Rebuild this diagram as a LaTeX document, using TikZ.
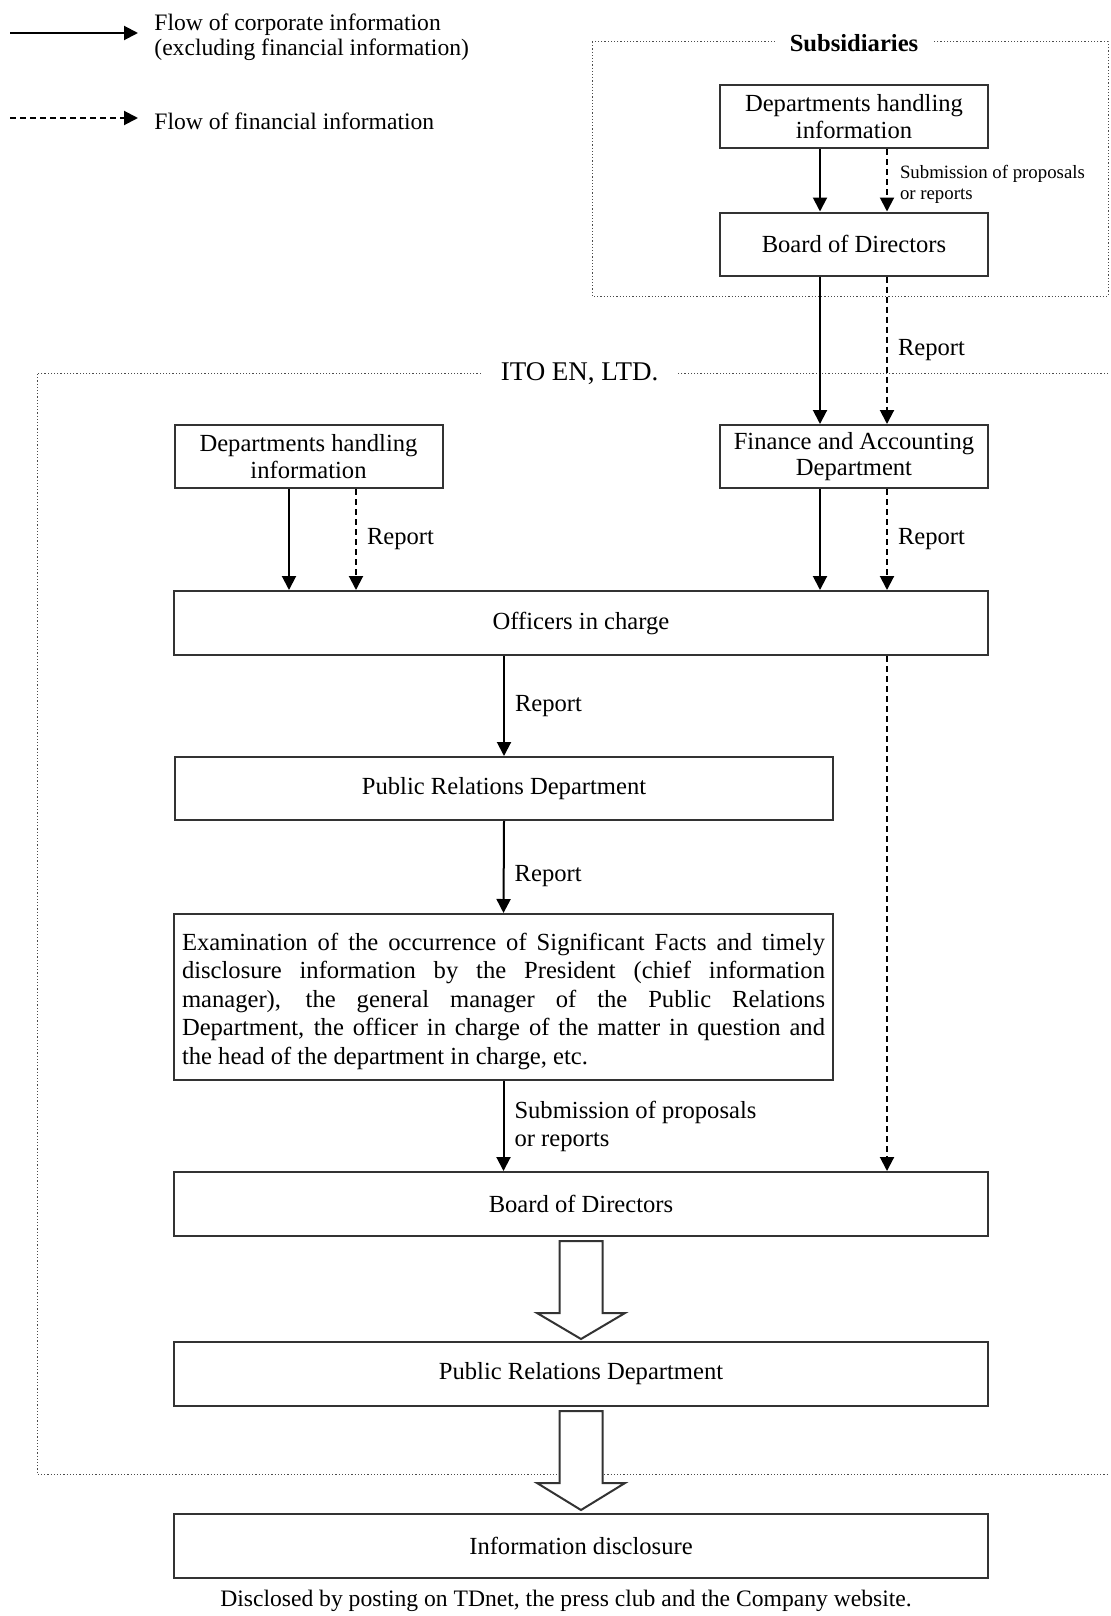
\documentclass[tikz,border=0pt]{standalone}
\usepackage{fontspec}
\setmainfont{Liberation Serif}
\usetikzlibrary{positioning, arrows.meta, calc}

\tikzset{
    infobox/.style={draw=black!80, line width=1pt, align=center, inner sep=2pt,
        font=\fontsize{12.3}{13.4}\selectfont},
    narrow/.style={infobox, minimum width=134pt, minimum height=31.5pt},
    wide/.style={infobox, minimum width=407pt, minimum height=32pt},
    half/.style={infobox, minimum width=329pt, minimum height=31.5pt},
    corp/.style={line width=1pt, -{Triangle[length=7pt, width=7pt]}},
    fin/.style={corp, dash pattern=on 3pt off 2pt},
    dotframe/.style={black!70, line width=0.5pt, dash pattern=on 0.6pt off 1pt},
    lbl/.style={font=\fontsize{12.3}{14}\selectfont, align=left, inner sep=0pt},
    smalllbl/.style={font=\fontsize{9.4}{10.3}\selectfont, align=left, inner sep=0pt},
    hollow/.style={draw=black!80, line width=1pt, fill=white, line join=miter},
}

\begin{document}
\begin{tikzpicture}[x=0.5pt, y=-0.5pt]
    \useasboundingbox (0,0) rectangle (1110,1616);

    % legend
    \coordinate (la) at (10,33);
    \coordinate (lb) at (138,33);
    \coordinate (lc) at (10,118);
    \coordinate (ld) at (138,118);
    \draw[corp] (la) -- (lb);
    \draw[fin] (lc) -- (ld);
    \node[lbl, anchor=west, font=\fontsize{11.8}{12.5}\selectfont] (legcorp) at (154,37)
        {Flow of corporate information\\(excluding financial information)};
    \node[lbl, anchor=west, font=\fontsize{11.8}{12.5}\selectfont] (legfin) at (154,121)
        {Flow of financial information};

    % frames
    \draw[dotframe] (592,42) rectangle (1108,296);
    \node[font=\bfseries\fontsize{12.3}{14}\selectfont, fill=white, inner xsep=7.4pt, inner ysep=1pt]
        (subs) at (854,43) {Subsidiaries};
    \draw[dotframe] (1108,373) -- (37,373) -- (37,1474) -- (1108,1474);
    \node[font=\fontsize{13.5}{15}\selectfont, fill=white, inner xsep=10pt, inner ysep=1pt]
        (itoen) at (579.5,374) {ITO EN, LTD.};

    % boxes
    \node[narrow] (subdept) at (854,116.5) {Departments handling\\information};
    \node[narrow] (subboard) at (854,244) {Board of Directors};
    \node[narrow] (dept) at (308.5,456.5) {Departments handling\\information};
    \node[narrow] (fa) at (854,456.5) {Finance and Accounting\\Department};
    \node[wide] (officers) at (581,623) {Officers in charge};
    \node[half] (pr) at (504,788.5) {Public Relations Department};
    \node[infobox, minimum width=329.5pt, minimum height=83pt, text width=321.5pt,
        align=justify, inner sep=0pt, font=\fontsize{12.3}{14.3}\selectfont] (exam) at (503.5,997)
        {\rule{0pt}{13pt}Examination of the occurrence of Significant Facts and timely\linebreak
        disclosure information by the President (chief information\linebreak
        manager), the general manager of the Public Relations\linebreak
        Department, the officer in charge of the matter in question and\linebreak
        the head of the department in charge, etc.};
    \node[wide] (board) at (581,1204) {Board of Directors};
    \node[wide] (pr2) at (581,1374) {Public Relations Department};
    \node[wide] (info) at (581,1546) {Information disclosure};

    % columns
    \coordinate (cs) at (820,0);
    \coordinate (cf) at (887,0);
    \coordinate (ls) at (289,0);
    \coordinate (lf) at (356,0);

    \draw[corp] (subdept.south -| cs) -- (subboard.north -| cs);
    \draw[fin] (subdept.south -| cf) -- node[smalllbl, right=6pt, yshift=-2pt] {Submission of proposals\\or reports} (subboard.north -| cf);
    \draw[corp] (subboard.south -| cs) -- (fa.north -| cs);
    \draw[fin] (subboard.south -| cf) -- node[lbl, right=5pt] {Report} (fa.north -| cf);
    \draw[corp] (dept.south -| ls) -- (officers.north -| ls);
    \draw[fin] (dept.south -| lf) -- node[lbl, right=5pt] {Report} (officers.north -| lf);
    \draw[corp] (fa.south -| cs) -- (officers.north -| cs);
    \draw[fin] (fa.south -| cf) -- node[lbl, right=5pt] {Report} (officers.north -| cf);
    \draw[corp] (officers.south -| pr.north) -- node[lbl, right=5pt] {Report} (pr.north);
    \draw[corp] (pr.south) -- node[lbl, right=5pt, pos=0.6] {Report} (exam.north);
    \draw[corp] (exam.south) -- node[lbl, right=5pt] {Submission of proposals\\or reports} (exam.south |- board.north);
    \draw[fin] (officers.south -| cf) -- (board.north -| cf);

    % hollow arrows
    \draw[hollow] ($(board.south)+(-21.5,4)$) -- ++(0,72) -- ++(-22.5,0) -- ($(pr2.north)+(0,-2)$)
        -- ($(board.south)+(44,76)$) -- ++(-22.5,0) -- ($(board.south)+(21.5,4)$) -- cycle;
    \draw[hollow] ($(pr2.south)+(-21.5,4)$) -- ++(0,72) -- ++(-22.5,0) -- ($(info.north)+(0,-3)$)
        -- ($(pr2.south)+(44,76)$) -- ++(-22.5,0) -- ($(pr2.south)+(21.5,4)$) -- cycle;

    \node[lbl, font=\fontsize{11.8}{14}\selectfont] (note) at (566,1601)
        {Disclosed by posting on TDnet, the press club and the Company website.};
\end{tikzpicture}
\end{document}
